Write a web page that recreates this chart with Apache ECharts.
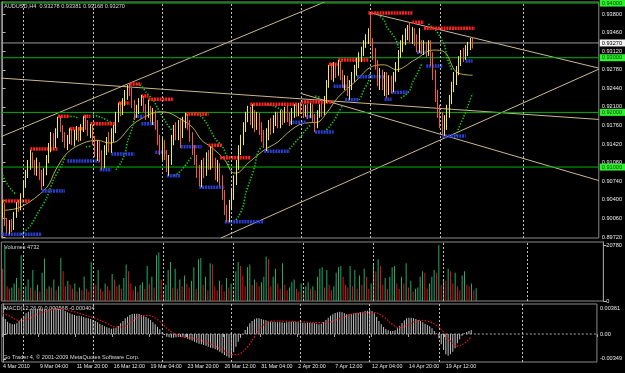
<!DOCTYPE html>
<html><head><meta charset="utf-8">
<script src="https://cdn.jsdelivr.net/npm/echarts@6/dist/echarts.min.js"></script>
<style>html,body{margin:0;padding:0;background:#000;}#c{width:625px;height:373px;}</style>
</head><body><div id="c"></div>
<script>
// ---------------- DATA ----------------
const firstOpen = 0.9012;
const closes = [
0.9031,0.8999,0.8985,0.8996,0.8988,0.9012,0.9031,0.9025,0.9049,0.9067,0.9085,
0.9098,0.9117,0.9107,0.9095,0.9104,0.9085,0.9073,0.9091,0.9113,0.9135,
0.9149,0.9140,0.9159,0.9182,0.9171,0.9153,0.9140,0.9149,0.9164,0.9149,
0.9159,0.9168,0.9153,0.9171,0.9186,0.9177,0.9164,0.9171,0.9149,0.9127,
0.9140,0.9117,0.9104,0.9131,0.9146,0.9135,0.9153,0.9168,0.9190,0.9208,
0.9201,0.9217,0.9232,0.9245,0.9237,0.9214,0.9195,0.9204,0.9219,0.9226,
0.9208,0.9195,0.9204,0.9190,0.9195,0.9177,0.9149,0.9131,0.9140,0.9122,
0.9098,0.9113,0.9149,0.9168,0.9159,0.9177,0.9164,0.9182,0.9190,0.9177,
0.9153,0.9131,0.9113,0.9091,0.9076,0.9098,0.9091,0.9113,0.9104,0.9122,
0.9107,0.9085,0.9098,0.9076,0.9049,0.9021,0.9007,0.9031,0.9049,0.9076,
0.9104,0.9131,0.9149,0.9171,0.9190,0.9201,0.9186,0.9195,0.9177,0.9190,
0.9171,0.9159,0.9146,0.9159,0.9177,0.9168,0.9182,0.9190,0.9179,0.9195,
0.9186,0.9201,0.9190,0.9182,0.9195,0.9204,0.9199,0.9212,0.9204,0.9197,
0.9204,0.9195,0.9208,0.9190,0.9177,0.9195,0.9204,0.9201,0.9223,0.9250,
0.9278,0.9268,0.9281,0.9274,0.9287,0.9268,0.9250,0.9259,0.9237,0.9250,
0.9263,0.9278,0.9287,0.9300,0.9310,0.9323,0.9332,0.9342,0.9329,0.9305,
0.9287,0.9259,0.9268,0.9250,0.9263,0.9245,0.9256,0.9248,0.9263,0.9281,
0.9305,0.9318,0.9332,0.9342,0.9351,0.9336,0.9347,0.9332,0.9318,0.9323,
0.9314,0.9321,0.9310,0.9323,0.9300,0.9268,0.9232,0.9204,0.9182,0.9171,
0.9186,0.9201,0.9223,0.9245,0.9259,0.9278,0.9292,0.9305,0.9300,0.9310,
0.9320,0.93278,0.9327];
const highs = [
0.9040,0.9034,0.9007,0.9003,0.9005,0.9018,0.9036,0.9040,0.9052,0.9076,0.9095,
0.9113,0.9131,0.9127,0.9113,0.9117,0.9109,0.9095,0.9098,0.9122,0.9144,
0.9164,0.9162,0.9171,0.9192,0.9193,0.9177,0.9164,0.9159,0.9171,0.9170,
0.9168,0.9175,0.9173,0.9179,0.9193,0.9195,0.9186,0.9179,0.9177,0.9157,
0.9149,0.9149,0.9131,0.9140,0.9155,0.9164,0.9171,0.9177,0.9201,0.9217,
0.9219,0.9226,0.9241,0.9250,0.9252,0.9245,0.9223,0.9214,0.9226,0.9232,
0.9230,0.9215,0.9223,0.9212,0.9208,0.9204,0.9186,0.9159,0.9153,0.9149,
0.9131,0.9122,0.9159,0.9177,0.9182,0.9186,0.9190,0.9192,0.9199,0.9197,
0.9186,0.9164,0.9140,0.9122,0.9104,0.9113,0.9117,0.9127,0.9131,0.9138,
0.9140,0.9117,0.9113,0.9107,0.9085,0.9058,0.9031,0.9040,0.9062,0.9085,
0.9113,0.9140,0.9159,0.9182,0.9201,0.9212,0.9210,0.9215,0.9204,0.9201,
0.9199,0.9182,0.9168,0.9171,0.9186,0.9190,0.9195,0.9201,0.9201,0.9204,
0.9204,0.9210,0.9212,0.9201,0.9208,0.9215,0.9214,0.9217,0.9219,0.9215,
0.9214,0.9215,0.9217,0.9215,0.9197,0.9204,0.9215,0.9217,0.9230,0.9259,
0.9287,0.9290,0.9292,0.9290,0.9296,0.9294,0.9278,0.9268,0.9267,0.9259,
0.9274,0.9287,0.9300,0.9310,0.9320,0.9332,0.9343,0.9354,0.9382,0.9336,
0.9318,0.9296,0.9281,0.9278,0.9274,0.9274,0.9268,0.9267,0.9274,0.9292,
0.9314,0.9332,0.9342,0.9354,0.9360,0.9365,0.9356,0.9354,0.9343,0.9354,
0.9332,0.9332,0.9329,0.9332,0.9332,0.9310,0.9278,0.9241,0.9214,0.9201,
0.9195,0.9214,0.9232,0.9256,0.9274,0.9285,0.9303,0.9314,0.9318,0.9323,
0.9329,0.9336,0.93381];
const lows = [
0.9007,0.8992,0.8979,0.8977,0.8981,0.8985,0.9007,0.9018,0.9021,0.9045,0.9062,
0.9080,0.9095,0.9098,0.9085,0.9084,0.9076,0.9058,0.9065,0.9085,0.9107,
0.9127,0.9131,0.9135,0.9153,0.9164,0.9146,0.9135,0.9131,0.9142,0.9140,
0.9138,0.9149,0.9146,0.9148,0.9164,0.9168,0.9157,0.9153,0.9140,0.9118,
0.9111,0.9109,0.9095,0.9098,0.9122,0.9127,0.9126,0.9146,0.9162,0.9182,
0.9193,0.9195,0.9212,0.9223,0.9230,0.9208,0.9186,0.9190,0.9197,0.9212,
0.9201,0.9186,0.9190,0.9182,0.9177,0.9168,0.9140,0.9122,0.9113,0.9113,
0.9091,0.9084,0.9104,0.9140,0.9149,0.9149,0.9135,0.9153,0.9171,0.9168,
0.9146,0.9122,0.9104,0.9080,0.9065,0.9063,0.9080,0.9084,0.9095,0.9095,
0.9098,0.9076,0.9073,0.9065,0.9040,0.9012,0.8999,0.8999,0.9021,0.9040,
0.9067,0.9095,0.9122,0.9140,0.9164,0.9182,0.9177,0.9171,0.9164,0.9168,
0.9159,0.9146,0.9135,0.9129,0.9149,0.9159,0.9162,0.9175,0.9171,0.9171,
0.9177,0.9181,0.9182,0.9175,0.9177,0.9190,0.9192,0.9193,0.9197,0.9190,
0.9192,0.9188,0.9190,0.9182,0.9164,0.9171,0.9190,0.9192,0.9195,0.9217,
0.9245,0.9259,0.9256,0.9263,0.9267,0.9259,0.9245,0.9241,0.9230,0.9223,
0.9241,0.9256,0.9267,0.9281,0.9292,0.9303,0.9318,0.9325,0.9323,0.9296,
0.9278,0.9248,0.9241,0.9241,0.9230,0.9226,0.9232,0.9235,0.9237,0.9256,
0.9274,0.9300,0.9310,0.9323,0.9332,0.9329,0.9325,0.9321,0.9310,0.9309,
0.9307,0.9305,0.9300,0.9303,0.9285,0.9259,0.9219,0.9190,0.9171,0.9160,
0.9157,0.9168,0.9190,0.9215,0.9237,0.9250,0.9268,0.9285,0.9292,0.9296,
0.9303,0.9314,0.93168];
const volumes = [
12000,20500,5500,4500,5000,6500,8500,5000,17000,4000,
5500,8000,5000,11500,4000,6000,3500,10500,15800,4500,
5500,5000,8000,4000,5500,16000,11000,5500,7500,6000,
4500,6500,3500,5000,4000,9000,4500,3500,14500,6000,
6000,11500,4500,3500,6500,5500,4000,10000,8000,5500,
6000,4500,8500,13500,11000,6500,4000,5500,3500,6000,
7000,4500,13000,6500,9000,5000,17000,18000,8000,3500,
6000,11500,14500,5000,12000,4500,8000,5500,9500,6500,
5000,7500,12500,4500,15500,16000,6000,9000,4000,14000,
13500,5500,4000,7500,6000,3500,8500,5000,6500,4000,
11000,14500,13000,9500,5500,12500,13500,6000,8000,7000,
5500,7000,9000,16500,15500,5500,9000,12000,6500,4500,
14000,6000,4000,5000,7000,8000,4500,3500,6500,4000,
5500,7000,4500,5500,4000,9000,12000,12500,5000,11500,
6000,4000,5500,10500,12500,13000,9000,6000,5000,13000,
5500,11500,4500,9500,6000,12000,9000,4500,6500,14000,
11000,15500,13000,6000,8500,4500,9000,12500,13000,6500,
4500,9000,6500,14000,5000,7500,3500,4500,5000,9000,
11000,10500,4500,6500,9000,11500,10500,20780,6000,8000,
7500,12000,11000,6500,10500,5500,4000,9500,11000,6000,
5500,6500,4000,4732];
const macdHist = [
0.00243,0.0021,0.00173,0.00149,0.00135,0.00135,0.00149,0.00182,0.0022,0.00257,0.0029,
0.00313,0.00332,0.00346,0.0035,0.00352,0.0035,0.00355,0.00345,0.0034,0.00343,
0.00352,0.00358,0.0036,0.00352,0.00345,0.00336,0.00322,0.00304,0.0029,0.00275,
0.00266,0.00257,0.00257,0.00248,0.00238,0.00229,0.0022,0.0021,0.00196,0.00182,
0.00163,0.00145,0.00126,0.00107,0.00093,0.00084,0.00075,0.00079,0.00089,0.00112,
0.00149,0.00182,0.0022,0.00243,0.00266,0.0028,0.00285,0.00285,0.0028,0.00266,
0.00257,0.00238,0.0022,0.00196,0.00163,0.00135,0.00103,0.00065,0.00023,-0.00014,
-0.00037,-0.00047,-0.00051,-0.00051,-0.00047,-0.00042,-0.00042,-0.00047,-0.00056,-0.00065,
-0.00079,-0.00093,-0.00107,-0.00121,-0.00135,-0.00145,-0.00154,-0.00163,-0.00177,-0.00191,
-0.002,-0.00215,-0.00229,-0.00248,-0.00271,-0.00294,-0.00313,-0.00332,-0.00318,-0.00257,
-0.00177,-0.00107,-0.00051,-0.00005,0.00056,0.00103,0.00149,0.00182,0.00205,0.0022,
0.0022,0.0021,0.002,0.00191,0.00182,0.00173,0.00173,0.00168,0.00163,0.00163,
0.00163,0.00159,0.00163,0.00168,0.00173,0.00173,0.00168,0.00163,0.00163,0.00159,
0.00154,0.00159,0.00159,0.00154,0.00149,0.00145,0.00135,0.00145,0.00163,0.00196,
0.00229,0.00257,0.00275,0.00294,0.00304,0.00313,0.00304,0.0029,0.00275,0.00275,
0.00285,0.0029,0.00294,0.00294,0.00304,0.00313,0.00322,0.00327,0.00336,0.00322,
0.0029,0.00243,0.00182,0.00135,0.00098,0.0007,0.00051,0.00042,0.00042,0.00051,
0.00079,0.00117,0.00154,0.00191,0.0022,0.00229,0.00229,0.0022,0.0021,0.00196,
0.00182,0.00163,0.00145,0.00126,0.00107,0.00079,0.00042,0.00009,-0.00061,-0.00145,
-0.00224,-0.00285,-0.00304,-0.00285,-0.00248,-0.002,-0.0013,-0.00075,-0.00023,0.00009,
0.00028,0.00042,0.000568];
const signalPts = [[0,0.0029],[3,0.0025],[7,0.0019],[11,0.0021],[15,0.0028],[20,0.0033],[25,0.0035],[30,0.0032],[35,0.0027],[40,0.0022],[45,0.0015],[49,0.0010],[52,0.0010],[55,0.0016],[59,0.0024],[63,0.0026],[67,0.0020],[71,0.0008],[74,0.0001],[78,-0.0004],[84,-0.0007],[90,-0.0014],[95,-0.0022],[100,-0.0029],[103,-0.0027],[106,-0.0018],[109,-0.0004],[112,0.0010],[116,0.0018],[122,0.0018],[130,0.0017],[137,0.0016],[142,0.0017],[147,0.0023],[152,0.0028],[157,0.0030],[161,0.0030],[165,0.0024],[169,0.0013],[172,0.0009],[176,0.0013],[180,0.0019],[184,0.0018],[188,0.0012],[191,0.0003],[194,-0.0010],[197,-0.0017],[200,-0.0013],[203,-0.000404]];
const maPts = [[1,0.9021],[8,0.9027],[19,0.9062],[23,0.9095],[28,0.9126],[35,0.9144],[41,0.9149],[46,0.9144],[50,0.9149],[56,0.9177],[63,0.9195],[68,0.9201],[72,0.9199],[76,0.9190],[82,0.9173],[86,0.9149],[90,0.9137],[96,0.9113],[99,0.9091],[101,0.9089],[106,0.9107],[113,0.9131],[119,0.9146],[123,0.9162],[128,0.9177],[132,0.9181],[136,0.9182],[140,0.9199],[145,0.9228],[153,0.9259],[159,0.9283],[165,0.9287],[170,0.9278],[178,0.9296],[186,0.9314],[191,0.9310],[196,0.9274],[203,0.9268]];
const sarSegments = [
[[0,0.9085],[2,0.9069],[4,0.9058],[6,0.9049]],
[[8,0.8977],[12,0.8992],[15,0.9014],[19,0.9043],[22,0.9076],[26,0.9107],[27,0.9120]],
[[28,0.9193],[31,0.9192],[33,0.9190]],
[[36,0.9137],[38,0.9138]],
[[39,0.9195],[41,0.9193],[43,0.9190],[45,0.9186],[47,0.9181]],
[[49,0.9095],[51,0.9107],[53,0.9126],[54,0.9146],[56,0.9171],[57,0.9190]],
[[58,0.9252],[60,0.9248],[62,0.9237],[65,0.9223],[67,0.9208],[69,0.9193],[71,0.9179],[73,0.9168]],
[[74,0.9084],[76,0.9089],[78,0.9098],[80,0.9109],[82,0.9120]],
[[83,0.9199],[86,0.9192],[88,0.9181],[90,0.9166],[92,0.9151],[95,0.9137],[97,0.9118],[98,0.9098]],
[[100,0.8999],[102,0.9010],[104,0.9029],[105,0.9051],[107,0.9076],[109,0.9102],[110,0.9124],[112,0.9138]],
[[114,0.9215],[117,0.9212],[119,0.9208],[121,0.9204]],
[[123,0.9129],[125,0.9138],[127,0.9148],[129,0.9157],[131,0.9168],[133,0.9177]],
[[135,0.9230],[137,0.9228]],
[[139,0.9164],[141,0.9173],[143,0.9184],[145,0.9199],[147,0.9214]],
[[150,0.9296],[152,0.9294]],
[[154,0.9223],[155,0.9230],[156,0.9241],[158,0.9256],[159,0.9274]],
[[161,0.9382],[163,0.9376],[165,0.9367],[166,0.9356],[168,0.9345],[170,0.9332],[171,0.9318]],
[[172,0.9226],[174,0.9232],[176,0.9241],[177,0.9254],[179,0.9270],[181,0.9288]],
[[184,0.9362],[185,0.9358],[187,0.9351],[189,0.9338],[191,0.9321],[192,0.9300],[194,0.9278]],
[[196,0.9157],[197,0.9171],[199,0.9190],[201,0.9212],[203,0.9235]]
];
const resistance = [[0,12,0.9038],[12,24,0.9133],[24,29,0.9193],[29,35,0.9170],[35,38,0.9193],[38,49,0.9179],[50,55,0.9217],[55,60,0.9252],[60,63,0.9230],[63,74,0.9224],[79,89,0.9197],[89,95,0.9140],[94,107,0.9117],[107,128,0.9215],[129,142,0.9219],[141,145,0.9288],[145,158,0.9296],[158,177,0.9382],[177,182,0.9365],[182,204,0.9354]];
const support = [[0,17,0.8977],[17,27,0.9056],[28,42,0.9111],[42,47,0.9095],[47,57,0.9124],[57,61,0.9193],[60,66,0.9179],[66,71,0.9127],[71,77,0.9084],[77,86,0.9137],[85,96,0.9063],[96,113,0.9000],[113,124,0.9129],[124,131,0.9182],[131,135,0.9192],[135,143,0.9164],[143,149,0.9248],[148,154,0.9223],[153,165,0.9265],[165,168,0.9224],[168,175,0.9237],[179,183,0.9310],[183,190,0.9285],[190,200,0.9157],[200,203,0.9294]];
const trendLines = [
[-0.5,0.91558,139.1,0.94019],
[94.3,0.89701,257.5,0.92791],
[-0.5,0.92627,257.5,0.91871],
[158.8,0.9382,257.5,0.92810],
[128.8,0.92347,257.5,0.90753]
];
const hLevels = [0.9400,0.9300,0.9200,0.9100];
const bidPrice = 0.93270;
const priceTicks = [0.8972,0.9006,0.9040,0.9074,0.9108,0.9142,0.9176,0.9210,0.9244,0.9278,0.9312,0.9346,0.9380];
const volTicks = [0,20780];
const macdTicks = [-0.00349,0,0.00361];
const dateLabels = ['4 Mar 2010','9 Mar 04:00','11 Mar 20:00','16 Mar 12:00','19 Mar 04:00','23 Mar 20:00','26 Mar 12:00','31 Mar 04:00','2 Apr 20:00','7 Apr 12:00','12 Apr 04:00','14 Apr 20:00','19 Apr 12:00'];
const weekLines = [9,39,69,99,129,159,189,225];

// ---------------- CHART ----------------
const SLOTS = 258;
const cats = Array.from({length: SLOTS}, (_, i) => String(i));
const ohlc = closes.map((c, i) => [i === 0 ? firstOpen : closes[i - 1], c, lows[i], highs[i]]);
const volData = volumes.map((v, i) => ({value: v, itemStyle: {color: (i > 0 && v > volumes[i - 1]) ? '#1fae6a' : '#d41414'}}));

const FONT = 'Liberation Sans';
const FS = 5.6;
const GL = 1.33, GW = 602;
const grids = [
  {left: GL, width: GW, top: 2, height: 236},
  {left: GL, width: GW, top: 242, height: 59},
  {left: GL, width: GW, top: 304, height: 58}
].map(g => Object.assign(g, {show: true, borderColor: '#8a8a8a', borderWidth: 1, backgroundColor: 'transparent'}));

function catAxis(gi, withLabels) {
  return {
    type: 'category', gridIndex: gi, data: cats, boundaryGap: true,
    axisLine: {show: false},
    axisTick: withLabels ? {show: true, interval: (i) => i % 16 === 0 && i <= 192, length: 3, inside: false, lineStyle: {color: '#a0a0a0'}} : {show: false},
    axisLabel: withLabels ? {
      show: true, interval: (i) => i % 16 === 0 && i <= 192,
      formatter: (v) => dateLabels[Number(v) / 16] || '',
      color: '#e6e6e6', fontSize: 5.3, fontFamily: FONT, align: 'left', margin: 2.5
    } : {show: false},
    splitLine: {show: false}
  };
}
function valAxis(gi) {
  return {type: 'value', gridIndex: gi, min: -0.5, max: SLOTS - 0.5, show: false, splitLine: {show: false}};
}
const ylab = {color: '#ececec', fontSize: FS, fontFamily: FONT, margin: 3};

const series = [];
// trend lines
trendLines.forEach(t => series.push({
  type: 'line', xAxisIndex: 1, yAxisIndex: 0, data: [[t[0], t[1]], [t[2], t[3]]],
  symbol: 'none', lineStyle: {color: '#cdb88f', width: 1}, z: 2, silent: true, animation: false
}));
// weekly separators in main pane
series.push({
  type: 'line', xAxisIndex: 1, yAxisIndex: 0, data: [], silent: true, animation: false,
  markLine: {
    silent: true, symbol: 'none', animation: false, label: {show: false},
    lineStyle: {color: '#bdbdbd', type: [2, 2], width: 1},
    data: weekLines.map(x => ({xAxis: x}))
  }
});
// horizontal price levels, each its own series with a price box at the right end
function levelSeries(v, lineColor, boxColor, textColor) {
  return {
    type: 'line', xAxisIndex: 1, yAxisIndex: 0, data: [[-0.5, v], [SLOTS - 0.5, v]],
    symbol: 'none', lineStyle: {color: lineColor, width: 1}, z: 3, silent: true, animation: false, clip: false,
    endLabel: {show: true, formatter: v.toFixed(5), distance: 1, backgroundColor: boxColor, color: textColor,
      fontSize: FS, fontFamily: FONT, padding: [1, 6, 0, 2]}
  };
}
hLevels.forEach(v => series.push(levelSeries(v, '#00b400', '#2ef02e', '#0a4a0a')));
series.push(levelSeries(bidPrice, '#9a9a9a', '#f2f2f2', '#000000'));
// fractal level markers
resistance.forEach(r => series.push({
  type: 'line', xAxisIndex: 1, yAxisIndex: 0, data: [[r[0], r[2]], [r[1], r[2]]], symbol: 'none',
  lineStyle: {color: '#ff2222', width: 3.5, type: [2, 0.8]}, z: 4, silent: true, animation: false
}));
support.forEach(r => series.push({
  type: 'line', xAxisIndex: 1, yAxisIndex: 0, data: [[r[0], r[2]], [r[1], r[2]]], symbol: 'none',
  lineStyle: {color: '#2a3fd0', width: 3.5, type: [2, 0.8]}, z: 4, silent: true, animation: false
}));
// moving average
series.push({
  type: 'line', xAxisIndex: 1, yAxisIndex: 0, data: maPts, symbol: 'none', smooth: 0.35,
  lineStyle: {color: '#b9ab4a', width: 1}, z: 3, silent: true, animation: false
});
// parabolic SAR
sarSegments.forEach(s => series.push({
  type: 'line', xAxisIndex: 1, yAxisIndex: 0, data: s, symbol: 'none', smooth: 0.3,
  lineStyle: {color: '#18d018', width: 1.6, type: [1.3, 1.7]}, z: 3, silent: true, animation: false
}));
// candles
series.push({
  type: 'candlestick', xAxisIndex: 0, yAxisIndex: 0, data: ohlc, barWidth: 1.3, z: 5, animation: false,
  itemStyle: {color: '#f4ee3a', color0: '#f05a3c', borderColor: '#f4ee3a', borderColor0: '#f05a3c', borderWidth: 1}
});
// volume pane
series.push({
  type: 'bar', xAxisIndex: 2, yAxisIndex: 1, data: volData, barWidth: 1, animation: false,
  markLine: {
    silent: true, symbol: 'none', animation: false, label: {show: false},
    lineStyle: {color: '#bdbdbd', type: [2, 2], width: 1},
    data: weekLines.map(x => ({xAxis: x}))
  }
});
// MACD pane
series.push({
  type: 'bar', xAxisIndex: 3, yAxisIndex: 2, data: macdHist, barWidth: 1, animation: false,
  itemStyle: {color: '#c4c4c4'},
  markLine: {
    silent: true, symbol: 'none', animation: false, label: {show: false},
    lineStyle: {color: '#bdbdbd', type: [2, 2], width: 1},
    data: weekLines.map(x => ({xAxis: x}))
  }
});
series.push({
  type: 'line', xAxisIndex: 4, yAxisIndex: 2, data: [[-0.5, 0], [SLOTS - 0.5, 0]], symbol: 'none',
  lineStyle: {color: '#a8a8a8', type: [2, 2], width: 1}, z: 1, silent: true, animation: false
});
series.push({
  type: 'line', xAxisIndex: 4, yAxisIndex: 2, data: signalPts, symbol: 'none', smooth: 0.4,
  lineStyle: {color: '#e01818', width: 1.2, type: [1.5, 1.5]}, z: 4, animation: false
});

const option = {
  backgroundColor: '#000000',
  animation: false,
  grid: grids,
  xAxis: [catAxis(0, false), valAxis(0), catAxis(1, false), catAxis(2, true), valAxis(2)],
  yAxis: [
    {type: 'value', gridIndex: 0, position: 'right', min: 0.89702, max: 0.940195,
      axisLine: {show: true, lineStyle: {color: '#9a9a9a'}},
      axisTick: {show: true, length: 3, customValues: priceTicks, lineStyle: {color: '#bbbbbb'}},
      axisLabel: Object.assign({customValues: priceTicks, formatter: v => v.toFixed(5)}, ylab),
      splitLine: {show: false}},
    {type: 'value', gridIndex: 1, position: 'right', min: 0, max: 21893,
      axisLine: {show: true, lineStyle: {color: '#9a9a9a'}},
      axisTick: {show: true, length: 3, customValues: volTicks, lineStyle: {color: '#bbbbbb'}},
      axisLabel: Object.assign({customValues: volTicks, formatter: v => String(v)}, ylab),
      splitLine: {show: false}},
    {type: 'value', gridIndex: 2, position: 'right', min: -0.00392, max: 0.0042,
      axisLine: {show: true, lineStyle: {color: '#9a9a9a'}},
      axisTick: {show: true, length: 3, customValues: macdTicks, lineStyle: {color: '#bbbbbb'}},
      axisLabel: Object.assign({customValues: macdTicks, formatter: v => v === 0 ? '0.00' : v.toFixed(5)}, ylab),
      splitLine: {show: false}}
  ],
  graphic: [
    {type: 'text', left: 4, top: 3, style: {text: 'AUDUSD,H4  0.93278 0.93381 0.93168 0.93270', fill: '#d8d8d8', font: FS + 'px "Liberation Sans"'}},
    {type: 'text', left: 4, top: 244, style: {text: 'Volumes 4732', fill: '#d8d8d8', font: FS + 'px "Liberation Sans"'}},
    {type: 'text', left: 4, top: 305, style: {text: 'MACD(12,26,9) 0.000568 -0.000404', fill: '#d8d8d8', font: FS + 'px "Liberation Sans"'}},
    {type: 'text', left: 3, top: 354, style: {text: 'Go Trader 4, \u00a9 2001-2009 MetaQuotes Software Corp.', fill: '#d8d8d8', font: FS + 'px "Liberation Sans"'}}
  ],
  series: series
};
const chart = echarts.init(document.getElementById('c'), null, {renderer: 'canvas'});
chart.setOption(option);
</script>
</body></html>
